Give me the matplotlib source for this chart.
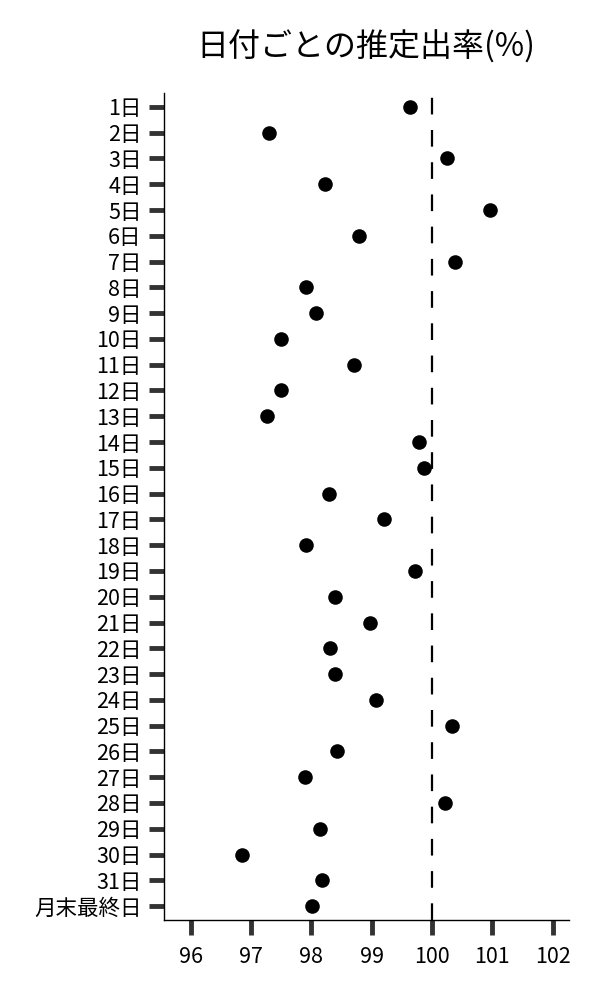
import matplotlib
matplotlib.use("Agg")
import matplotlib.pyplot as plt

plt.rcParams['font.family'] = ['Noto Sans CJK JP', 'DejaVu Sans']

days = [f"{i}日" for i in range(1, 32)] + ["月末最終日"]
rates = [99.63, 97.29, 100.25, 98.22, 100.96, 98.79, 100.39, 97.91,
         98.07, 97.49, 98.70, 97.49, 97.26, 99.78, 99.86, 98.29,
         99.20, 97.91, 99.71, 98.39, 98.97, 98.31, 98.39, 99.07,
         100.33, 98.42, 97.89, 100.21, 98.14, 96.85, 98.17, 98.01]
xticks = [96, 97, 98, 99, 100, 101, 102]
ref = 100

fig = plt.figure(figsize=(6, 10), dpi=100)
ax = fig.add_axes([0.273, 0.08, 0.675, 0.827])

ypos = list(range(len(days)))
ax.scatter(rates, ypos, s=110, color='black', zorder=3, linewidths=0)
ax.axvline(ref, color='black', linewidth=1.6, linestyle=(0, (7.5, 7)), zorder=2)

ax.set_yticks(ypos)
ax.set_yticklabels(days, fontsize=15.5)
ax.set_xticks(xticks)
ax.set_xticklabels([str(v) for v in xticks], fontsize=15.5)
ax.set_ylim(len(days) - 0.46, -0.54)
ax.set_xlim(95.55, 102.27)

ax.tick_params(axis='both', length=11, width=3.5, color='#333333', pad=5)
ax.tick_params(axis='x', pad=8)
for s in ['top', 'right']:
    ax.spines[s].set_visible(False)
for s in ['left', 'bottom']:
    ax.spines[s].set_linewidth(1.0)

ax.set_title("日付ごとの推定出率(%)", fontsize=23, pad=26)

fig.savefig("out.png", dpi=100)
